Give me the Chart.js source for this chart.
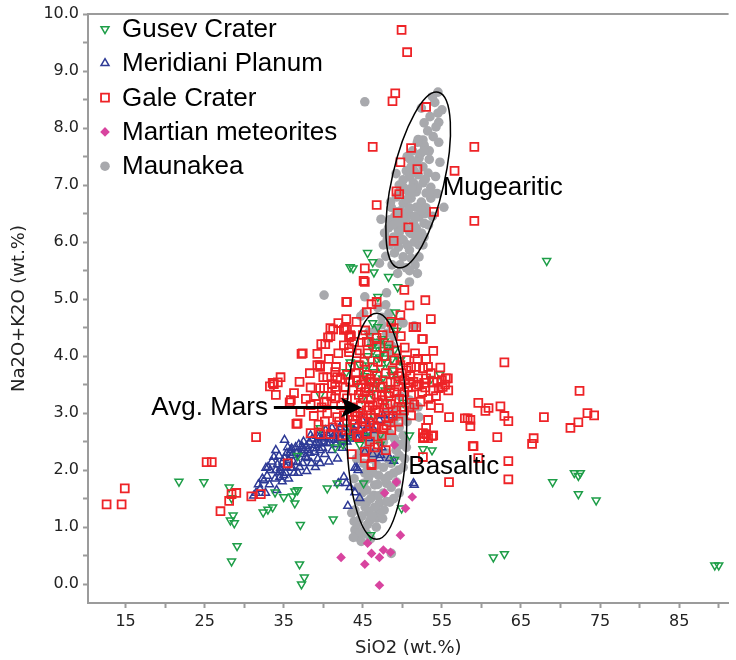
<!DOCTYPE html>
<html>
<head>
<meta charset="utf-8">
<script src="https://cdn.jsdelivr.net/npm/chart.js@4.4.1/dist/chart.umd.min.js"></script>
<style>
  html, body { margin: 0; padding: 0; background: #fff; }
  #tas { display: block; }
</style>
</head>
<body>
<canvas id="tas" width="736" height="660"></canvas>
<script>
// SiO2 vs total alkali (wt.%), one [SiO2, Na2O+K2O] pair per analysis
var gusev = [
  [89.5,0.33],[90.0,0.33],[68.25,5.67],[69.0,1.79],[71.75,1.95],[72.5,1.95],[72.25,1.9],[72.25,1.58],[74.5,1.47],[61.5,0.47],[62.9,0.53],
  [21.75,1.8],[24.9,1.79],[28.1,1.7],[28.4,1.51],[28.6,1.21],[28.25,1.12],[28.75,1.07],[29.1,0.67],[28.4,0.4],
  [33.9,1.61],[35.0,1.53],[33.6,1.35],[33.0,1.31],[32.4,1.26],[36.1,1.54],[36.4,1.42],[36.75,1.65],
  [37.0,0.35],[37.6,0.12],[37.25,0.0],[37.1,1.04],[41.25,1.14],[40.5,1.68],[41.75,1.77],[45.1,1.77],[49.9,1.33],[46.0,0.86],
  [49.0,2.18],[53.75,2.35],[50.9,2.61],[47.25,2.63],
  [49.4,5.21],[46.9,5.04],[49.1,4.77],[46.25,4.58],[46.9,4.51],[47.75,4.26],[47.6,4.11],[46.1,4.16],[49.75,3.93],[47.75,3.96],
  [47.1,3.98],[43.4,3.89],[42.9,3.72],[54.75,3.68],[53.6,3.6],[39.6,3.32],[50.1,3.18],
  [45.75,3.84],[46.5,3.72],[47.25,3.79],[48.0,3.89],[48.6,3.67],[45.5,3.58],[46.75,3.49],[47.5,3.61],[48.25,3.44],[46.1,3.35],
  [45.0,3.75],[49.0,4.11],[47.4,4.11],[44.25,3.51],
  [43.4,5.56],[43.75,5.54],[45.6,5.81],[46.25,5.65],[46.4,5.47],[48.25,5.39],
  [41.5,2.4],[36.75,2.25],[39.6,2.74],[43.25,2.75],[52.6,2.37],[49.6,3.93],[36.4,1.63],
  [45.6,4.0],[46.3,4.1],[46.8,3.95],[47.4,4.3],[48.1,4.15],[48.7,3.95],[45.2,3.65],[46.0,3.45],[47.0,3.55],[47.8,3.4],
  [48.9,3.75],[44.6,3.85],[45.9,4.35],[46.6,4.25],[49.4,3.6],[44.9,3.25],[47.9,3.2],[46.4,2.95],[45.3,2.6],[44.6,2.45],
  [47.2,2.45],[43.5,2.6],[42.5,2.45],[49.3,4.45],[48.5,4.6]
];

var meridiani = [
  [35.1,2.53],[34.0,2.35],[33.75,2.23],[32.75,2.04],[32.5,1.82],[34.6,2.04],[35.0,1.91],[35.9,2.35],[34.5,1.96],[35.6,2.18],[36.1,2.04],
  [35.1,2.21],[35.9,2.04],[36.1,2.26],[37.4,2.39],[38.25,2.49],[38.4,2.61],[39.5,2.47],[40.1,2.58],[40.9,2.65],[41.1,2.74],
  [42.1,2.75],[42.6,2.65],[43.4,2.75],[44.25,2.79],[44.9,2.88],[44.5,2.58],[45.75,2.56],[46.4,2.7],[47.1,2.88],[48.6,2.96],[47.6,2.96],
  [36.75,2.14],[37.75,2.23],[38.9,2.32],[39.9,2.39],[40.5,2.47],[41.5,2.53],[42.75,2.56],[43.6,2.61],[35.5,2.4],[36.5,2.4],
  [34.6,2.0],[35.25,1.95],[34.5,1.88],
  [38.9,2.44],[37.6,2.35],[38.0,2.21],[39.6,2.12],[42.4,2.39],[44.0,2.04],[44.4,2.0],[42.6,1.88],[42.9,1.77],[43.4,1.7],
  [44.0,1.61],[44.6,1.51],[43.1,1.37],[41.9,1.77],[46.25,2.28],[47.1,2.21],[48.4,2.21],[47.4,2.4],[45.25,2.32],[51.5,1.74],
  [42.1,2.56],[39.5,2.58],[32.0,1.67],[31.5,1.6],[51.4,1.77],[47.25,2.26],[48.9,2.16],[44.25,2.04],
  [33.3,2.0],[34.2,2.1],[35.4,2.3],[36.0,2.38],[36.9,2.45],[37.5,2.5],[38.0,2.35],[38.6,2.55],[39.2,2.6],[39.8,2.55],
  [40.3,2.7],[40.8,2.48],[41.3,2.6],[41.9,2.65],[42.3,2.8],[43.0,2.5],[43.8,2.7],[44.3,2.55],[37.0,2.05],[36.3,1.95],
  [34.8,1.8],[33.9,1.85],[32.9,1.9],
  [31.8,1.75],[32.3,1.85],[33.0,2.05],[33.5,2.15],[34.0,2.0],[34.4,2.25],[34.9,2.15],[35.3,2.05],[35.8,2.3],[36.2,2.15],
  [36.6,2.3],[37.1,2.28],[37.3,2.42],[37.9,2.42],[38.3,2.3],[38.8,2.38],[39.1,2.48],[39.6,2.35],[40.0,2.5],[40.6,2.6],
  [41.0,2.55],[41.6,2.45],[42.0,2.62],[42.5,2.5],[43.1,2.65],[43.5,2.55],[44.0,2.68],[44.7,2.7],[45.2,2.65],[45.6,2.78],
  [46.0,2.85],[33.2,1.75],[32.7,1.6],[34.1,1.65],[35.6,1.85],[36.8,1.95],[37.4,2.12],[38.5,2.12],[39.3,2.2],[40.2,2.28],
  [41.1,2.35],[41.8,2.2],[40.7,2.15],[39.0,2.05],[37.9,1.98],[31.2,1.55]
];

var gale = [
  [49.9,9.72],[50.6,9.33],[49.1,8.61],[48.75,8.47],[53.0,8.37],[46.25,7.67],[51.1,7.65],[59.1,7.67],[49.75,7.4],[56.6,7.25],
  [51.9,7.28],[49.25,6.89],[49.6,6.84],[46.75,6.65],[49.4,6.51],[54.0,6.53],[59.1,6.37],[50.75,6.26],[48.9,6.02],[45.25,5.54],
  [45.1,5.32],[43.0,4.95],[42.9,4.65],[41.9,4.58],[41.25,4.47],[43.0,4.47],[43.5,4.35],[40.9,4.35],[40.6,4.33],[40.25,4.21],
  [39.75,4.21],[42.6,4.19],[37.25,4.04],[39.25,4.04],[39.25,3.84],[34.6,3.63],[34.25,3.54],[33.75,3.51],[33.25,3.47],[34.0,3.32],
  [39.6,3.81],[40.0,3.63],[39.6,3.44],[41.6,3.81],[41.75,3.63],[41.1,3.51],
  [33.6,3.53],[35.75,3.19],[31.5,2.58],[35.5,2.12],[25.25,2.14],[25.9,2.14],[29.0,1.6],[28.4,1.58],[28.1,1.46],[27.0,1.28],
  [30.9,1.54],[32.1,1.58],[14.9,1.68],[14.5,1.4],[12.6,1.4],[36.6,2.81],
  [46.75,4.95],[45.5,4.77],[53.6,4.65],[51.4,4.51],[52.6,4.3],[53.9,4.09],[42.75,4.49],[43.4,4.37],[45.75,4.25],[44.25,4.05],
  [46.75,4.16],[37.4,4.05],[39.6,3.84],[43.4,3.81],[44.5,3.84],[41.5,3.72],[43.0,3.67],[45.1,3.58],[40.5,3.63],[40.1,3.44],
  [41.5,3.46],[42.6,3.32],[35.9,3.23],[37.1,3.02],[38.4,3.14],[40.1,3.19],[40.5,3.0],[41.75,2.93],[42.6,2.96],[36.75,2.82],
  [39.6,2.63],[42.4,2.61],[45.9,2.84],[46.75,2.75],[45.5,2.65],[46.5,2.4],[46.1,2.11],[45.25,2.32],[55.5,3.61],[54.6,3.44],
  [55.9,2.93],[58.25,2.91],[52.6,2.65],[52.75,2.58],[53.25,2.56],[52.6,2.23],[55.9,1.79],[50.1,3.23],[49.9,3.11],[52.6,3.79],
  [51.75,3.81],[53.25,3.81],[50.5,3.75],[52.0,3.61],[52.75,3.53],[53.9,3.54],[50.9,3.53],[53.9,3.4],
  [62.9,3.89],[72.4,3.39],[59.6,3.18],[60.9,3.09],[60.5,3.04],[62.4,3.12],[62.9,2.95],[63.4,2.86],[57.9,2.91],[58.6,2.88],
  [58.6,2.77],[67.9,2.93],[73.4,3.0],[74.25,2.96],[72.25,2.84],[71.25,2.74],[62.0,2.58],[66.6,2.56],[66.4,2.46],[59.0,2.42],
  [59.6,2.21],[63.4,2.16],[63.4,1.84],
  [43.75,3.4],[44.5,3.32],[45.25,3.37],[46.0,3.26],[46.75,3.32],[47.5,3.23],[48.25,3.3],[49.0,3.37],[44.75,3.14],[45.5,3.05],
  [46.25,3.14],[47.0,3.02],[47.75,3.09],[48.5,3.16],[49.25,3.05],[44.0,3.02],[45.0,2.91],[46.0,2.96],[47.25,2.88],[48.25,2.91],
  [44.25,3.58],[45.5,3.67],[46.5,3.54],[47.5,3.47],[48.5,3.54],[49.5,3.47],[45.75,3.44],[45.0,3.26],[46.9,3.19],[48.0,2.79],
  [48.75,3.75],[49.5,3.65],[50.25,3.58],[51.0,3.65],[51.75,3.47],[52.5,3.37],[50.25,3.37],[51.1,3.32],[53.0,3.61],[54.25,3.3],
  [55.0,3.58],[49.0,3.93],[49.75,3.84],[50.5,3.93],[43.0,3.26],[42.25,3.14],[41.5,3.26],[43.75,2.88],[44.9,2.75],[47.4,2.61],
  [48.6,2.7],[43.25,4.07],[48.25,4.19],[47.5,4.37],[45.0,4.37],[48.9,4.49],[49.75,4.72],[50.9,4.89],[50.25,5.16],[52.9,4.98],
  [45.25,5.3],[42.9,4.95],[46.1,4.91],[51.75,4.51],[52.5,4.3],[40.9,4.49],[42.6,4.46],[43.25,4.33],[46.75,4.32],[45.5,4.25],
  [43.25,4.14],[55.75,3.61],[55.1,3.46],[53.25,2.88],[53.0,2.63],[53.9,2.61],[53.0,2.74],[53.6,3.14],[54.6,3.09],[51.1,2.96],
  [51.1,3.81],[38.4,2.65],[40.9,2.63],[44.25,2.61],[44.5,2.58],[45.5,2.63],[43.6,2.28],[45.25,2.21],[46.1,2.09],[52.6,2.56],
  [53.75,2.6],[58.9,2.42],
  [44.1,3.7],[44.8,3.5],[45.2,3.9],[45.9,3.55],[46.3,3.8],[46.8,3.65],[47.2,3.45],[47.9,3.7],[48.4,3.35],[49.1,3.55],
  [49.6,3.25],[49.9,3.7],[43.4,3.55],[42.8,3.45],[42.2,3.6],[41.6,3.4],[41.0,3.3],[40.4,3.2],[39.8,3.1],[39.0,3.3],
  [38.4,3.45],[37.8,3.25],[43.5,3.1],[44.3,2.95],[45.3,2.85],[46.4,2.78],[47.6,2.72],[48.8,2.95],[49.5,2.85],[50.2,3.05],
  [44.7,3.0],[45.8,3.1],[46.6,3.05],[47.4,3.3],[48.1,3.15],[44.0,2.8],[43.1,2.95],[42.0,2.85],[41.2,2.75],[40.2,2.85],
  [45.4,3.45],[46.0,3.6],[46.9,3.9],[47.7,4.0],[45.6,4.05],[44.6,4.1],[43.9,4.25],[49.3,4.1],[50.3,4.15],[51.6,4.05],
  [50.7,3.45],[51.4,3.55],[52.1,3.5],[52.9,3.45],[53.6,3.7],[54.4,3.55],[55.4,3.5],[53.3,3.25],[52.3,3.2],[51.5,3.15],
  [50.9,3.1],[54.8,3.8],[55.8,3.4],[53.0,3.95],[51.9,3.95],[49.8,4.35],[48.6,4.6],[44.2,4.6],[45.3,4.45],[41.9,4.05],
  [40.7,3.95],[38.3,3.7],[37.0,3.55],[36.3,3.35],[38.8,2.95],[39.4,2.8],[42.9,2.7],[46.9,2.45],[47.9,2.35],[45.9,2.5]
];

var meteorites = [
  [49.0,2.44],[49.25,1.79],[47.75,1.6],[51.25,1.53],[50.4,1.33],[49.75,0.86],[45.6,0.72],[46.1,0.54],[47.1,0.47],[47.6,0.6],
  [48.5,0.56],[42.25,0.47],[45.25,0.35],[47.1,-0.02]
];

var maunakea = [
  [54.5,8.63],[55.0,8.32],[54.5,8.26],[54.6,8.1],[54.25,8.02],[52.75,8.09],[52.6,7.79],[52.75,7.7],[54.75,7.4],[52.1,7.47],
  [51.75,7.4],[51.1,7.32],[52.6,7.32],[53.25,7.21],[52.0,7.18],[50.9,7.14],[50.1,7.09],[49.6,7.0],[51.4,7.04],[52.6,7.04],
  [53.6,6.96],[50.5,6.91],[51.75,6.88],[53.0,6.86],[49.25,6.79],[51.1,6.77],[52.4,6.7],[53.6,6.77],[50.1,6.68],[48.6,6.61],
  [51.75,6.61],[53.0,6.6],[55.25,6.61],[49.25,6.53],[50.75,6.51],[52.1,6.44],[48.4,6.39],[49.9,6.35],[51.4,6.33],[52.75,6.33],
  [48.25,6.25],[49.5,6.21],[50.9,6.18],[52.4,6.16],[48.9,6.09],[50.1,6.04],[51.5,6.0],[52.75,6.09],[48.4,5.95],[49.5,5.91],
  [50.9,5.86],[52.1,5.95],[49.0,5.81],[50.1,5.74],[52.1,5.74],[51.1,5.72],[47.1,5.63],[45.25,8.46],
  [50.5,7.25],[51.5,7.25],[49.6,6.86],[50.9,6.86],[49.0,6.44],[50.5,6.42],[51.75,6.25],[49.6,6.16],[47.75,6.16],
  [51.3,7.6],[52.3,7.55],[53.4,7.6],[53.9,7.85],[53.5,8.2],[54.1,8.45],[53.2,7.95],[52.0,7.8],[51.4,7.0],[50.6,6.75],
  [51.9,6.95],[52.9,6.5],[53.8,6.45],[54.4,6.85],[54.2,7.15],[53.4,7.45],[52.7,7.6],[51.0,7.45],[50.2,6.95],[49.8,6.55],
  [50.9,6.6],[51.6,6.45],[52.4,6.55],[53.3,6.3],[48.8,6.3],[49.6,6.35],[50.4,6.25],[51.1,6.15],[51.9,6.1],[52.6,5.95],
  [48.1,6.05],[49.2,6.0],[50.6,5.95],[49.7,5.6],[50.5,5.55],[51.6,5.6],[51.9,5.45],[50.9,5.5],[48.7,5.6],[49.4,5.45],
  [47.9,5.75],[53.4,6.85],[52.9,7.1],[51.2,6.95],[50.0,6.45],[47.6,5.95],[48.5,6.7],[49.2,7.2],[50.6,7.5],[51.9,7.75],
  [52.4,8.35],[53.8,8.55],[47.3,6.4],[54.6,7.75],
  [40.1,5.07],[45.25,5.04],[48.0,5.11],[50.9,5.3],[45.1,4.75],[47.4,4.68],[49.9,4.6],[48.6,4.54],[51.5,4.53],[45.75,4.42],
  [48.0,4.4],[47.1,4.25],[46.1,4.25],[48.6,4.19],[48.4,4.07],[52.0,3.11],[50.9,3.23],[49.25,3.11],[49.25,2.93],[49.6,2.75],
  [48.25,2.82],[44.75,4.7],[50.1,4.58],[52.1,2.93],
  [47.4,4.55],[48.3,4.75],[46.6,4.45],[48.9,4.35],[47.9,4.9],[46.9,4.85],
  [45.1,2.65],[46.75,2.67],[48.4,2.65],[50.1,2.61],[45.75,2.47],[47.6,2.49],[49.25,2.47],[50.5,2.4],[44.6,2.3],[46.4,2.32],
  [48.0,2.3],[49.6,2.26],[45.1,2.12],[46.75,2.09],[48.6,2.12],[50.1,2.05],[45.25,1.95],[47.0,1.91],[48.9,1.95],[45.1,1.77],
  [46.5,1.74],[48.0,1.77],[49.25,1.79],[44.9,1.6],[46.4,1.56],[47.6,1.6],[45.5,1.44],[47.1,1.42],[48.4,1.44],[44.0,1.3],
  [45.75,1.26],[47.1,1.26],[44.5,1.12],[45.9,1.12],[44.0,0.95],[45.25,0.95],[44.25,0.83],[48.6,0.54],[43.6,1.25],[46.75,1.16],
  [45.6,2.55],[46.3,2.6],[47.2,2.55],[48.0,2.6],[49.0,2.55],[49.8,2.45],[45.3,2.35],[46.1,2.2],[47.3,2.3],[48.2,2.2],
  [49.2,2.35],[50.3,2.2],[45.6,2.0],[46.3,1.95],[47.6,2.05],[48.3,1.9],[49.5,2.0],[45.7,1.85],[46.9,1.75],[47.8,1.85],
  [48.6,1.7],[49.6,1.6],[45.5,1.65],[46.0,1.5],[47.0,1.55],[48.0,1.45],[48.9,1.5],[44.6,1.45],[45.3,1.35],[46.5,1.35],
  [47.7,1.3],[44.9,1.2],[46.2,1.2],[47.5,1.15],[44.3,1.05],[45.6,1.05],[46.7,1.0],[44.7,0.9],[43.9,1.1],[45.5,0.88],
  [46.0,0.8],[44.8,0.75],[43.8,0.82],[50.4,2.5],[50.6,2.85],[48.9,2.85],[47.9,3.0],[49.7,3.3],[51.3,3.1],[49.9,2.95],
  [44.9,3.0],[44.2,2.2],[43.9,1.85],[44.4,1.7]
];

var seriesNames = ['Gusev Crater', 'Meridiani Planum', 'Gale Crater', 'Martian meteorites', 'Maunakea'];

// axis ticks: labelled and minor positions
var xTicks = [15, 20, 25, 30, 35, 40, 45, 50, 55, 60, 65, 70, 75, 80, 85, 90];
var yTicks = [0, 0.5, 1, 1.5, 2, 2.5, 3, 3.5, 4, 4.5, 5, 5.5, 6, 6.5, 7, 7.5, 8, 8.5, 9, 9.5, 10];

function toPoints(list) {
  return list.map(function (p) { return { x: p[0], y: p[1] }; });
}

var GRAY_AXIS = '#9b9b9b';
var LABEL_FONT = '"Liberation Sans", Arial, sans-serif';

// ellipses (radii in px, rotation in deg) and text notes placed at data coordinates
var fields = [
  { x: 52.0, y: 7.09, rx: 26, ry: 90, rot: 12.9 },
  { x: 46.75, y: 2.77, rx: 30, ry: 113, rot: 0 }
];
var notes = [
  { text: 'Mugearitic', x: 55.1, y: 6.95, align: 'left' },
  { text: 'Basaltic', x: 50.75, y: 2.05, align: 'left' },
  { text: 'Avg. Mars', x: 33.0, y: 3.1, align: 'right' }
];
var avgArrow = { from: [33.75, 3.1], to: [44.9, 3.1] };

var annotations = {
  id: 'annotations',
  afterDatasetsDraw: function (chart) {
    var ctx = chart.ctx;
    var xs = chart.scales.x, ys = chart.scales.y;
    ctx.save();

    // frame line along the top of the plot
    ctx.strokeStyle = GRAY_AXIS;
    ctx.lineWidth = 2;
    ctx.beginPath();
    ctx.moveTo(chart.chartArea.left, chart.chartArea.top);
    ctx.lineTo(chart.chartArea.right, chart.chartArea.top);
    ctx.stroke();

    ctx.strokeStyle = '#000';
    ctx.lineWidth = 1.5;
    fields.forEach(function (f) {
      ctx.beginPath();
      ctx.ellipse(xs.getPixelForValue(f.x), ys.getPixelForValue(f.y), f.rx, f.ry, f.rot * Math.PI / 180, 0, Math.PI * 2);
      ctx.stroke();
    });

    // arrow pointing at the average Mars composition
    var x0 = xs.getPixelForValue(avgArrow.from[0]);
    var x1 = xs.getPixelForValue(avgArrow.to[0]);
    var yA = ys.getPixelForValue(avgArrow.from[1]);
    ctx.lineWidth = 3;
    ctx.beginPath();
    ctx.moveTo(x0, yA);
    ctx.lineTo(x1 - 16, yA);
    ctx.stroke();
    ctx.fillStyle = '#000';
    ctx.beginPath();
    ctx.moveTo(x1, yA);
    ctx.lineTo(x1 - 21, yA - 10);
    ctx.lineTo(x1 - 16, yA);
    ctx.lineTo(x1 - 21, yA + 10);
    ctx.closePath();
    ctx.fill();

    ctx.font = '26px ' + LABEL_FONT;
    ctx.textBaseline = 'middle';
    notes.forEach(function (n) {
      ctx.textAlign = n.align;
      ctx.fillText(n.text, xs.getPixelForValue(n.x), ys.getPixelForValue(n.y));
    });

    // legend in the upper left corner of the plot
    var lx = chart.chartArea.left + 17;
    var ly = chart.chartArea.top + 15;
    chart.data.datasets.forEach(function (ds, i) {
      var y = ly + i * 34.3;
      ctx.fillStyle = ds.backgroundColor;
      ctx.strokeStyle = ds.borderColor;
      ctx.lineWidth = ds.borderWidth;
      Chart.helpers.drawPoint(ctx, {
        pointStyle: ds.pointStyle,
        rotation: ds.rotation || 0,
        radius: ds.pointRadius,
        borderWidth: ds.borderWidth
      }, lx, y);
      ctx.fillStyle = '#000';
      ctx.textAlign = 'left';
      ctx.fillText(ds.label, lx + 17, y + 1);
    });
    ctx.restore();
  }
};

var ctx = document.getElementById('tas').getContext('2d');
var chart = new Chart(ctx, {
  type: 'scatter',
  data: {
    datasets: [{
      label: seriesNames[0],
      data: toPoints(gusev),
      pointStyle: 'triangle',
      rotation: 180,
      pointRadius: 4.6,
      borderWidth: 1.5,
      borderColor: '#1e9e48',
      backgroundColor: 'rgba(0,0,0,0)',
      order: 2
    }, {
      label: seriesNames[1],
      data: toPoints(meridiani),
      pointStyle: 'triangle',
      pointRadius: 4.6,
      borderWidth: 1.5,
      borderColor: '#2e3a96',
      backgroundColor: 'rgba(0,0,0,0)',
      order: 3
    }, {
      label: seriesNames[2],
      data: toPoints(gale),
      pointStyle: 'rect',
      pointRadius: 5.6,
      borderWidth: 1.8,
      borderColor: '#ee2327',
      backgroundColor: 'rgba(0,0,0,0)',
      order: 1
    }, {
      label: seriesNames[3],
      data: toPoints(meteorites),
      pointStyle: 'rectRot',
      pointRadius: 4.8,
      borderWidth: 0,
      borderColor: '#d8449f',
      backgroundColor: '#d8449f',
      order: 0
    }, {
      label: seriesNames[4],
      data: toPoints(maunakea),
      pointStyle: 'circle',
      pointRadius: 4.8,
      borderWidth: 0,
      borderColor: '#a8a9ad',
      backgroundColor: '#a8a9ad',
      order: 4
    }]
  },
  options: {
    responsive: false,
    animation: false,
    devicePixelRatio: 1,
    layout: { padding: { top: 14, right: 0, left: 0, bottom: 0 } },
    plugins: {
      legend: { display: false },
      tooltip: { enabled: false }
    },
    scales: {
      x: {
        type: 'linear',
        min: 10.25,
        max: 91.25,
        afterFit: function (scale) { scale.height = 57; },
        afterBuildTicks: function (scale) {
          scale.ticks = xTicks.map(function (v) { return { value: v }; });
        },
        border: { display: true, color: GRAY_AXIS, width: 2 },
        grid: { display: true, drawOnChartArea: false, drawTicks: true, tickLength: 5, tickColor: GRAY_AXIS, tickWidth: 2 },
        ticks: {
          autoSkip: false,
          maxRotation: 0,
          padding: 4,
          color: '#222',
          font: { family: '"DejaVu Sans", sans-serif', size: 16 },
          callback: function (v) { return (v - 15) % 10 === 0 ? String(v) : ''; }
        },
        title: {
          display: true,
          text: 'SiO2 (wt.%)',
          color: '#222',
          padding: { top: 0, bottom: 1 },
          font: { family: '"DejaVu Sans", sans-serif', size: 18 }
        }
      },
      y: {
        type: 'linear',
        min: -0.33,
        max: 10,
        afterFit: function (scale) { scale.width = 88; },
        afterBuildTicks: function (scale) {
          scale.ticks = yTicks.map(function (v) { return { value: v }; });
        },
        border: { display: true, color: GRAY_AXIS, width: 2 },
        grid: { display: true, drawOnChartArea: false, drawTicks: true, tickLength: 5, tickColor: GRAY_AXIS, tickWidth: 2 },
        ticks: {
          autoSkip: false,
          padding: 4,
          color: '#222',
          font: { family: '"DejaVu Sans", sans-serif', size: 16 },
          callback: function (v) { return Number.isInteger(v) ? v.toFixed(1) : ''; }
        },
        title: {
          display: true,
          text: 'Na2O+K2O (wt.%)',
          color: '#222',
          padding: { top: 9, bottom: 0 },
          font: { family: '"DejaVu Sans", sans-serif', size: 18 }
        }
      }
    }
  },
  plugins: [annotations]
});
</script>
</body>
</html>
